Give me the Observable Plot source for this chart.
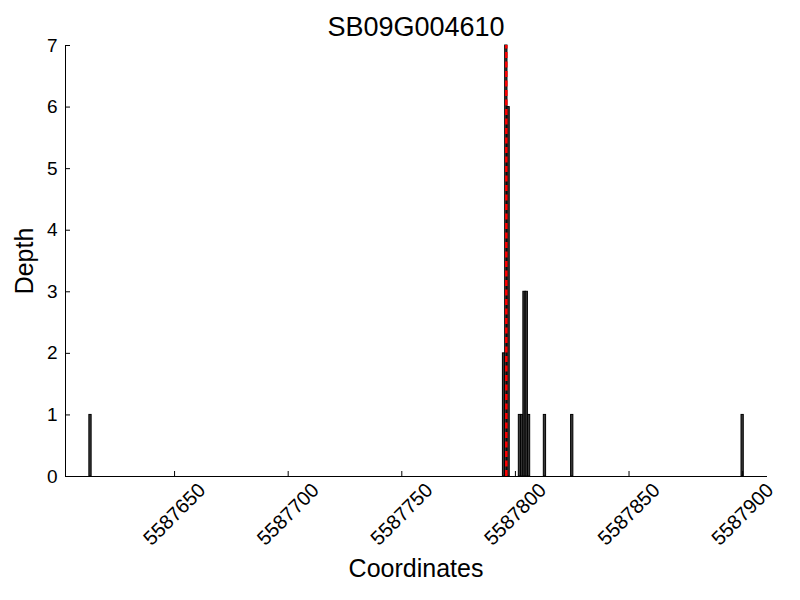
<!DOCTYPE html>
<html>
<head>
<meta charset="utf-8">
<script src="https://cdn.jsdelivr.net/npm/d3@7"></script>
<script src="https://cdn.jsdelivr.net/npm/@observablehq/plot@0.6"></script>
<style>
  html, body { margin: 0; padding: 0; background: #fff; }
  #chart svg { display: block; }
</style>
</head>
<body>
<div id="chart"></div>
<script>
const title = "SB09G004610";
const xLabel = "Coordinates";
const yLabel = "Depth";
const positions = [5587613, 5587795, 5587796, 5587797, 5587802, 5587803, 5587804, 5587805, 5587806, 5587813, 5587825, 5587900];
const depths = [1, 2, 7, 6, 1, 1, 3, 3, 1, 1, 1, 1];
const markerPos = [5587796];
const xTicks = [5587650, 5587700, 5587750, 5587800, 5587850, 5587900];
const yTicks = [0, 1, 2, 3, 4, 5, 6, 7];
const xDomain = [5587602, 5587910.5];
const yDomain = [0, 7];

const data = positions.map((p, i) => ({pos: p, depth: depths[i]}));
const font = "'Liberation Sans', Arial, Helvetica, sans-serif";

const chart = Plot.plot({
  width: 800,
  height: 600,
  marginTop: 45,
  marginRight: 34,
  marginBottom: 124,
  marginLeft: 65,
  style: {fontFamily: font, background: "white", color: "black"},
  x: {domain: xDomain, axis: null},
  y: {domain: yDomain, axis: null},
  marks: [
    Plot.rectY(data, {x1: d => d.pos - 0.5, x2: d => d.pos + 0.5, y1: 0, y2: "depth", fill: "#3a3a3a", stroke: "black", strokeWidth: 1}),
    Plot.ruleX(markerPos, {x: d => d, y1: yDomain[0], y2: yDomain[1], stroke: "red", strokeWidth: 2.5, strokeDasharray: "6,3.5"}),
    Plot.frame({anchor: "left", stroke: "black", strokeWidth: 1}),
    Plot.frame({anchor: "bottom", stroke: "black", strokeWidth: 1}),
    Plot.tickX(xTicks, {x: d => d, insetTop: 426, stroke: "black", strokeWidth: 1}),
    Plot.tickY(yTicks, {y: d => d, insetRight: 696, stroke: "black", strokeWidth: 1}),
    Plot.text(xTicks, {x: d => d, text: d => String(d), frameAnchor: "bottom", dy: 38, rotate: -45, textAnchor: "middle", lineAnchor: "middle", fontSize: 20, fill: "black"}),
    Plot.text(yTicks, {y: d => d, text: d => String(d), frameAnchor: "left", dx: -8, textAnchor: "end", lineAnchor: "middle", fontSize: 19, fill: "black"}),
    Plot.text([xLabel], {text: d => d, frameAnchor: "bottom", dy: 100, textAnchor: "middle", lineAnchor: "bottom", fontSize: 25, fill: "black"}),
    Plot.text([yLabel], {text: d => d, frameAnchor: "left", dx: -33, rotate: -90, textAnchor: "middle", lineAnchor: "bottom", fontSize: 25, fill: "black"}),
    Plot.text([title], {text: d => d, frameAnchor: "top", dy: -10, textAnchor: "middle", lineAnchor: "bottom", fontSize: 27, fill: "black"})
  ]
});
document.getElementById("chart").appendChild(chart);
</script>
</body>
</html>
